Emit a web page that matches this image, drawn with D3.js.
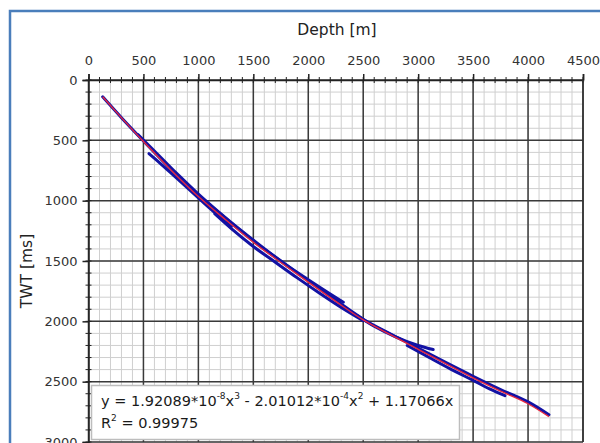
<!DOCTYPE html>
<html>
<head>
<meta charset="utf-8">
<script src="https://cdn.jsdelivr.net/npm/d3@7"></script>
<style>
  html, body { margin: 0; padding: 0; background: #ffffff; }
  svg { display: block; }
</style>
</head>
<body>
<svg id="chart" width="600" height="443"></svg>
<script>
// ---------- data ----------
const xTickValues = [0, 500, 1000, 1500, 2000, 2500, 3000, 3500, 4000, 4500];
const yTickValues = [0, 500, 1000, 1500, 2000, 2500, 3000];
const xTitle = "Depth [m]";
const yTitle = "TWT [ms]";

// fitted curve (red)
const fitDepth = [129, 250, 500, 750, 1000, 1250, 1500, 1750, 2000, 2250, 2500, 2750, 3000, 3250, 3500, 3750, 4000, 4190];
const fitTwt   = [139, 262, 510, 745, 966, 1160, 1345, 1512, 1675, 1835, 1988, 2112, 2232, 2350, 2468, 2578, 2683, 2790];

// well data (blue)
const wellADepth = [129, 300, 500, 750, 1000, 1250, 1500, 1750, 2000, 2250, 2500, 2750, 3000, 3250, 3500, 3750, 4000, 4190];
const wellATwt   = [139, 312, 505, 738, 955, 1148, 1333, 1500, 1665, 1825, 1982, 2105, 2222, 2340, 2455, 2565, 2668, 2774];

const wellBDepth = [450, 600, 800, 1000, 1200, 1400, 1600, 1800, 2000, 2200, 2319];
const wellBTwt   = [452, 588, 772, 945, 1105, 1255, 1398, 1533, 1655, 1773, 1841];

const wellCDepth = [550, 650, 800, 950, 1100, 1200, 1300];
const wellCTwt   = [610, 688, 812, 935, 1060, 1140, 1215];

const wellDDepth = [1150, 1300, 1500, 1700, 1900, 2100, 2300, 2500];
const wellDTwt   = [1110, 1232, 1380, 1510, 1640, 1765, 1885, 1995];

const wellEDepth = [2450, 2600, 2800, 3000, 3137];
const wellETwt   = [1955, 2040, 2130, 2200, 2234];

const wellFDepth = [2900, 3100, 3300, 3500, 3650, 3790];
const wellFTwt   = [2200, 2300, 2398, 2490, 2560, 2616];

const eqText = ["y = 1.92089*10", "-8", "x", "3", " - 2.01012*10", "-4", "x", "2", " + 1.17066x"];
const r2Text = ["R", "2", " = 0.99975"];

// ---------- drawing ----------
const svg = d3.select("#chart");
const W = 600, H = 443;
const plot = { left: 88.5, right: 583, top: 80, bottom: 442 };
const font = "DejaVu Sans, Verdana, sans-serif";

const x = d3.scaleLinear().domain([0, 4500]).range([plot.left, plot.right]);
const y = d3.scaleLinear().domain([0, 3000]).range([plot.top, plot.bottom]);

svg.append("rect").attr("width", W).attr("height", H).attr("fill", "#ffffff");

// minor grid
const minorX = d3.range(0, 4501, 100);
const minorY = d3.range(0, 3001, 100);
const g = svg.append("g");
g.selectAll("line.mx").data(minorX).join("line")
  .attr("x1", d => x(d)).attr("x2", d => x(d))
  .attr("y1", plot.top).attr("y2", plot.bottom)
  .attr("stroke", "#cfcfcf").attr("stroke-width", 1);
g.selectAll("line.my").data(minorY).join("line")
  .attr("y1", d => y(d)).attr("y2", d => y(d))
  .attr("x1", plot.left).attr("x2", plot.right)
  .attr("stroke", "#cfcfcf").attr("stroke-width", 1);

// major grid
g.selectAll("line.Mx").data(xTickValues).join("line")
  .attr("x1", d => x(d)).attr("x2", d => x(d))
  .attr("y1", plot.top).attr("y2", plot.bottom)
  .attr("stroke", "#3a3a3a").attr("stroke-width", 1.5);
g.selectAll("line.My").data(yTickValues).join("line")
  .attr("y1", d => y(d)).attr("y2", d => y(d))
  .attr("x1", plot.left).attr("x2", plot.right)
  .attr("stroke", "#3a3a3a").attr("stroke-width", 1.5);

// axes (top and left)
const xAxis = d3.axisTop(x).tickValues(xTickValues).tickSize(6).tickPadding(9).tickFormat(d3.format("d"));
const yAxis = d3.axisLeft(y).tickValues(yTickValues).tickSize(6).tickPadding(5).tickFormat(d3.format("d"));
const gx = svg.append("g").attr("transform", `translate(0,${plot.top})`).call(xAxis);
const gy = svg.append("g").attr("transform", `translate(${plot.left},0)`).call(yAxis);
[gx, gy].forEach(a => {
  a.select(".domain").attr("stroke", "#222").attr("stroke-width", 1.5);
  a.selectAll(".tick line").attr("stroke", "#222").attr("stroke-width", 1.5);
  a.selectAll(".tick text").attr("fill", "#333").attr("font-family", font).attr("font-size", 13);
});
// minor ticks crossing axes
svg.append("g").selectAll("line").data(minorX).join("line")
  .attr("x1", d => x(d)).attr("x2", d => x(d))
  .attr("y1", plot.top - 3).attr("y2", plot.top + 3)
  .attr("stroke", "#222").attr("stroke-width", 1);
svg.append("g").selectAll("line").data(minorY).join("line")
  .attr("y1", d => y(d)).attr("y2", d => y(d))
  .attr("x1", plot.left - 3).attr("x2", plot.left + 3)
  .attr("stroke", "#222").attr("stroke-width", 1);
// right border
svg.append("line").attr("x1", plot.right).attr("x2", plot.right)
  .attr("y1", plot.top).attr("y2", plot.bottom).attr("stroke", "#333").attr("stroke-width", 1.5);

// titles
svg.append("text").attr("x", 337).attr("y", 35).attr("text-anchor", "middle")
  .attr("font-family", font).attr("font-size", 15.5).attr("fill", "#222")
  .text(xTitle);
svg.append("text").attr("transform", "translate(32,271) rotate(-90)").attr("text-anchor", "middle")
  .attr("font-family", font).attr("font-size", 15.5).attr("fill", "#222")
  .text(yTitle);

// data lines
const line = d3.line().x(d => x(d[0])).y(d => y(d[1])).curve(d3.curveMonotoneX);
const wells = [
  [wellADepth, wellATwt], [wellBDepth, wellBTwt], [wellCDepth, wellCTwt],
  [wellDDepth, wellDTwt], [wellEDepth, wellETwt], [wellFDepth, wellFTwt]
];
const dg = svg.append("g");
wells.forEach(([ds, ts]) => {
  dg.append("path").datum(ds.map((d, i) => [d, ts[i]]))
    .attr("d", line).attr("fill", "none")
    .attr("stroke", "#1212a4").attr("stroke-width", 3)
    .attr("stroke-linecap", "round").attr("stroke-linejoin", "round");
});
dg.append("path").datum(fitDepth.map((d, i) => [d, fitTwt[i]]))
  .attr("d", line).attr("fill", "none")
  .attr("stroke", "#e8283f").attr("stroke-width", 1.4);

// legend box
const lg = svg.append("g");
lg.append("rect").attr("x", 91.5).attr("y", 385.5).attr("width", 368).attr("height", 54)
  .attr("fill", "#ffffff").attr("stroke", "#bdbdbd").attr("stroke-width", 1.5);
function richText(parts, supIdx, tx, ty) {
  const t = lg.append("text").attr("x", tx).attr("y", ty)
    .attr("font-family", font).attr("font-size", 14.5).attr("fill", "#1a1a1a");
  parts.forEach((p, i) => {
    const sup = supIdx.includes(i);
    const prevSup = supIdx.includes(i - 1);
    t.append("tspan").text(p)
      .attr("font-size", sup ? 9 : 14.5)
      .attr("dy", sup ? -7 : (prevSup ? 7 : 0));
  });
}
richText(eqText, [1, 3, 5, 7], 101, 406);
richText(r2Text, [1], 101, 428);

// outer frame
svg.append("rect").attr("x", 10).attr("y", 11).attr("width", 620).attr("height", 460)
  .attr("fill", "none").attr("stroke", "#4a7ebb").attr("stroke-width", 2.5);
</script>
</body>
</html>
